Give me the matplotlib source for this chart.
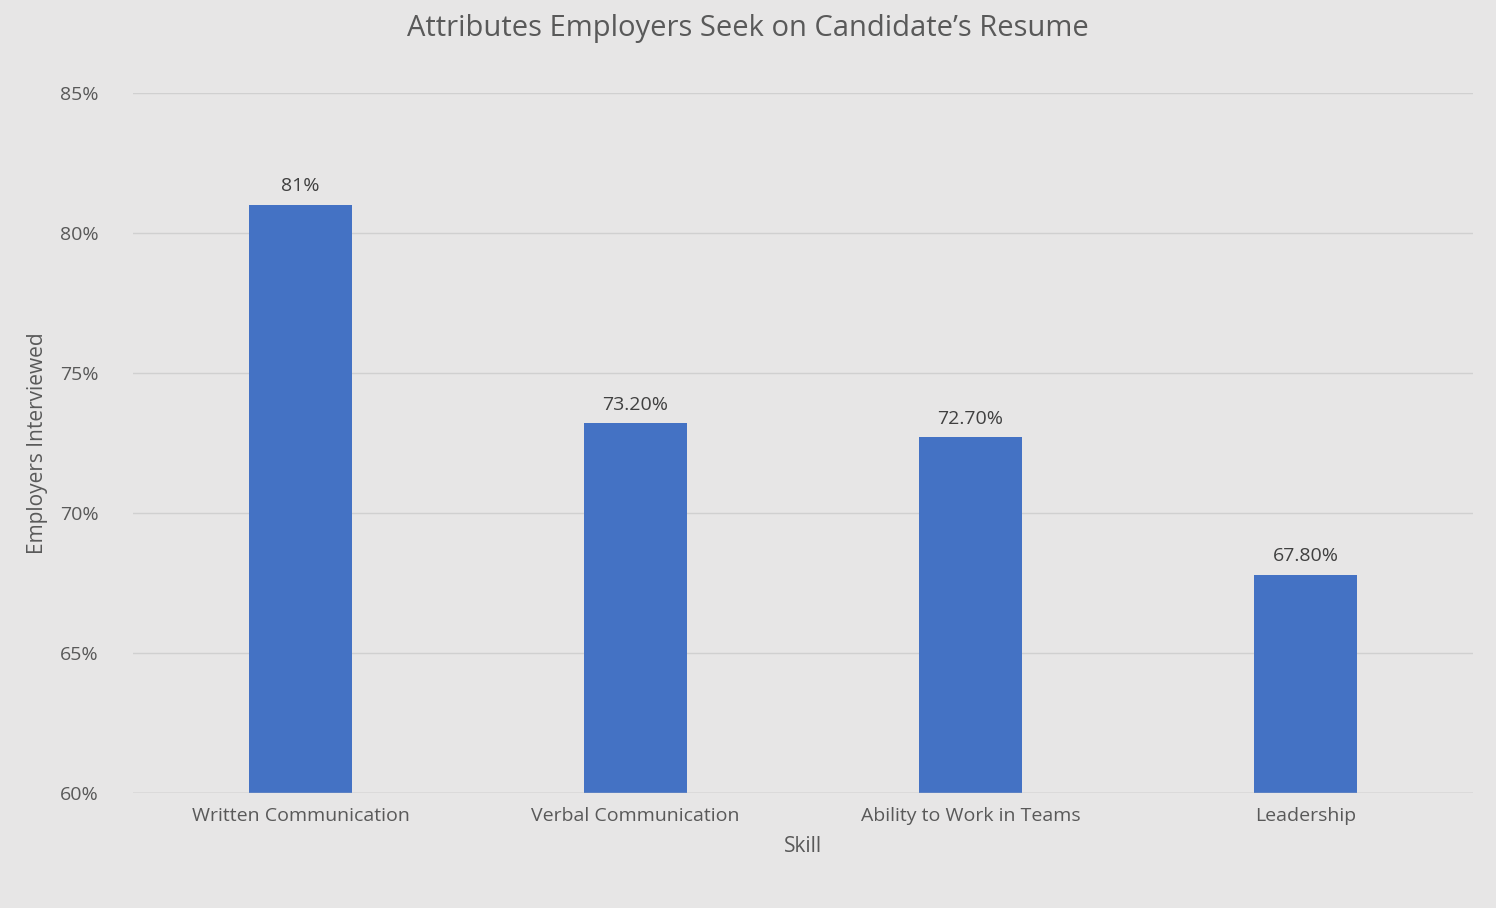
import matplotlib.pyplot as plt
from matplotlib.ticker import FuncFormatter

skills = ['Written Communication', 'Verbal Communication', 'Ability to Work in Teams', 'Leadership']
values = [81.0, 73.2, 72.7, 67.8]
labels = ['81%', '73.20%', '72.70%', '67.80%']

bg = '#e7e6e6'
txt = '#595959'
plt.rcParams['font.family'] = 'Open Sans'

fig = plt.figure(figsize=(14.96, 9.08), dpi=100, facecolor=bg)
ax = fig.add_axes([0.0889, 0.1267, 0.8957, 0.7709], facecolor=bg)

x = range(len(skills))
bars = ax.bar(x, values, width=0.31, color='#4472c4', zorder=3)
for b, lab in zip(bars, labels):
    ax.text(b.get_x() + b.get_width() / 2, b.get_height() + 0.35, lab,
            ha='center', va='bottom', fontsize=14, color='#404040')

ax.set_ylim(60, 85)
ax.set_xlim(-0.5, 3.5)
ax.set_yticks(range(60, 86, 5))
ax.yaxis.set_major_formatter(FuncFormatter(lambda v, p: f'{v:.0f}%'))
ax.grid(axis='y', color='#d0d0d0', linewidth=1, zorder=0)
ax.set_xticks(list(x))
ax.set_xticklabels(skills)
ax.tick_params(length=0, labelsize=14, labelcolor=txt, pad=10)
ax.tick_params(axis='y', pad=25)
for s in ax.spines.values():
    s.set_visible(False)
ax.axhline(60, color='#bfbfbf', linewidth=1, zorder=4)

ax.set_xlabel('Skill', fontsize=15, color=txt, labelpad=8)
ax.set_ylabel('Employers Interviewed', fontsize=15, color=txt, labelpad=8)
fig.suptitle('Attributes Employers Seek on Candidate\u2019s Resume', fontsize=21, color=txt, y=0.985)

fig.savefig('out.png', dpi=100, facecolor=bg)
